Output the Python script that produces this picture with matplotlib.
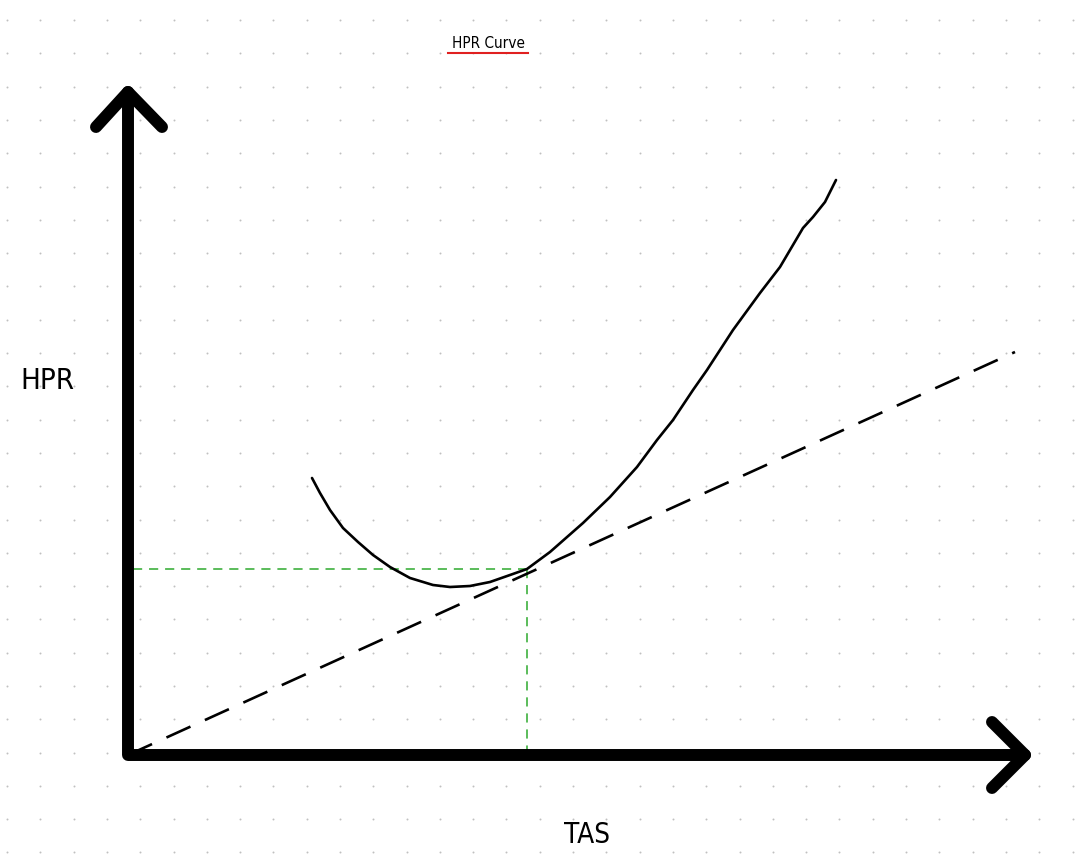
import numpy as np
import matplotlib
matplotlib.use("Agg")
import matplotlib.pyplot as plt

# ---- data (TAS vs HPR, arbitrary units) ----
tas_curve = [18.4, 19.2, 20.2, 21.5, 23.0, 24.5, 26.2, 28.2, 30.5, 32.2, 34.2,
             36.2, 38.2, 39.9, 42.2, 45.5, 48.2, 50.9, 52.9, 54.5, 56.5, 57.9,
             60.5, 63.2, 65.2, 67.5, 68.5, 69.7, 70.2, 70.8]
hpr_curve = [27.7, 26.2, 24.5, 22.7, 21.3, 20.0, 18.8, 17.7, 17.0, 16.8, 16.9,
             17.3, 18.0, 18.6, 20.3, 23.2, 25.8, 28.8, 31.5, 33.5, 36.5, 38.5,
             42.5, 46.2, 48.8, 52.7, 53.8, 55.3, 56.3, 57.5]
tangent_tas = [0.0, 88.7]
tangent_hpr = [0.0, 40.3]
min_power_tas = 39.9
min_power_hpr = 18.6
axis_x_end = 89.7
axis_y_end = 66.3

FONT = ["DejaVu Sans"]

fig = plt.figure(figsize=(10.84, 8.60), dpi=100)
ax = fig.add_axes([0, 0, 1, 1])
ax.set_xlim(-12.8, 95.6)
ax.set_ylim(-10.5, 75.5)
ax.axis("off")

# dotted paper background (pixel grid converted to data)
px = np.arange(7, 1084, 33.3)
py = np.arange(20, 860, 33.3)
PX, PY = np.meshgrid(px, py)
ax.scatter((PX.ravel() - 128) / 10, (755 - PY.ravel()) / 10, s=2.0,
           color="#c0c0c0", linewidths=0, zorder=0)

# axes with arrows
lw_ax = 8.6
kw = dict(color="black", lw=lw_ax, solid_capstyle="round",
          solid_joinstyle="round", zorder=3)
ax.plot([0, 0, axis_x_end], [axis_y_end, 0, 0], **kw)
ax.plot([-3.2, 0, 3.4], [axis_y_end - 3.5, axis_y_end, axis_y_end - 3.5], **kw)
ax.plot([axis_x_end - 3.3, axis_x_end, axis_x_end - 3.3], [3.3, 0, -3.3], **kw)

# tangent dashed line
ax.plot(tangent_tas, tangent_hpr, color="black", lw=1.9,
        dashes=(10, 6), zorder=2)

# green guides to the tangent point
ax.plot([0.5, min_power_tas], [min_power_hpr, min_power_hpr],
        color="#2eaa2e", lw=1.1, dashes=(6, 4.5), zorder=1)
ax.plot([min_power_tas, min_power_tas], [min_power_hpr, 0.3],
        color="#2eaa2e", lw=1.1, dashes=(6, 4.5), zorder=1)

# power required curve
ax.plot(tas_curve, hpr_curve, color="black", lw=1.9,
        solid_capstyle="round", solid_joinstyle="round", zorder=2)

# labels
ax.text((47 - 128) / 10, (755 - 381) / 10, "HPR", family=FONT, fontsize=21,
        fontstretch="condensed", ha="center", va="center")
ax.text((587 - 128) / 10, (755 - 835) / 10, "TAS", family=FONT, fontsize=20,
        fontstretch="condensed", ha="center", va="center")
ax.text((488 - 128) / 10, (755 - 43) / 10, "HPR Curve", family=FONT,
        fontsize=11, fontstretch="condensed", ha="center", va="center")
ax.plot([(448 - 128) / 10, (528 - 128) / 10], [(755 - 53) / 10] * 2,
        color="#e02020", lw=1.5)

fig.savefig("out.png", dpi=100)
